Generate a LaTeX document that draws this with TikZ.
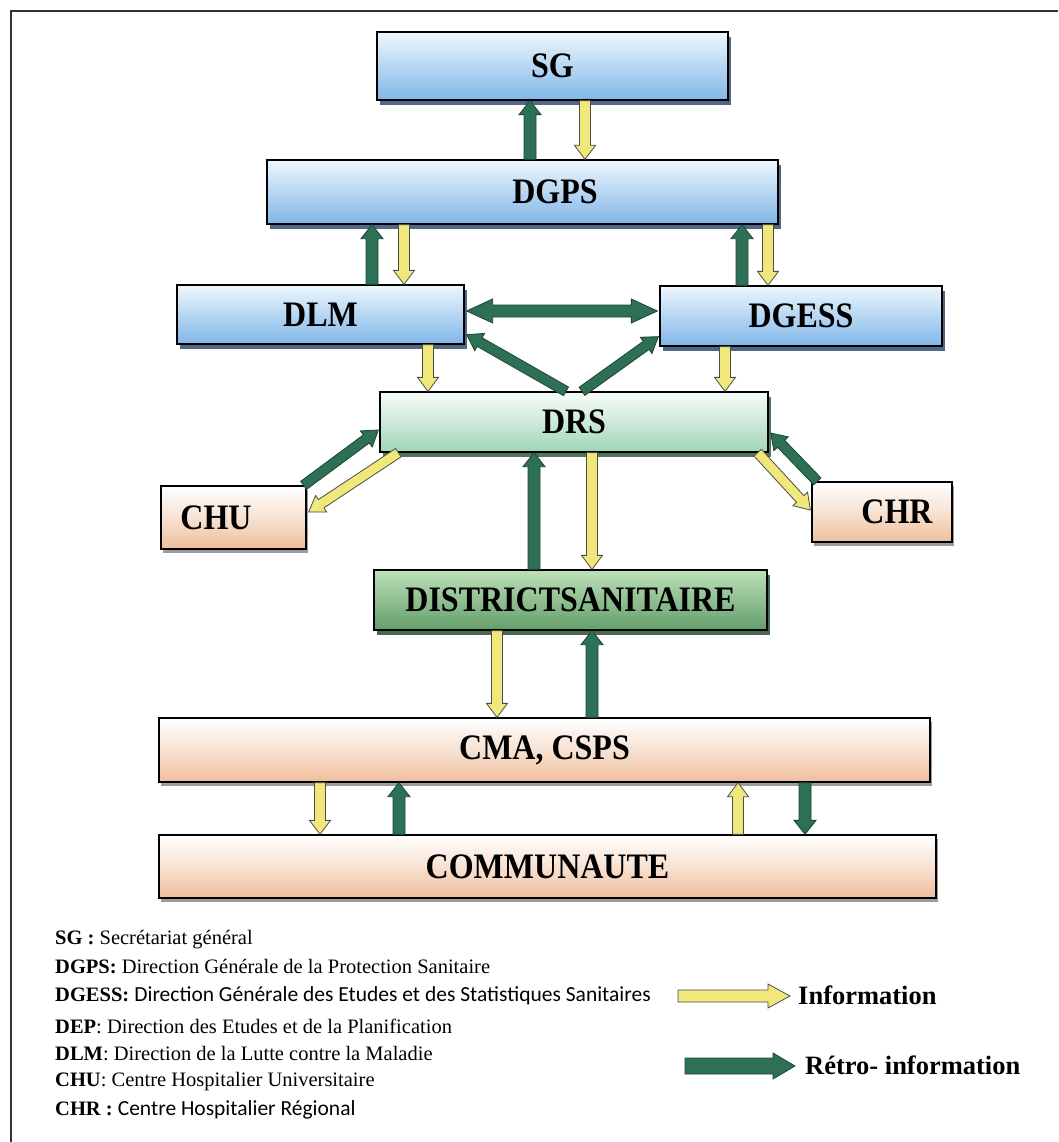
\documentclass[tikz,border=0pt]{standalone}
\usepackage{fontspec}
\usepackage{graphicx}
\setmainfont{Liberation Serif}
\newfontfamily\carl{Carlito}
\usetikzlibrary{calc,shadows}
\definecolor{blueT}{RGB}{238,247,253}
\definecolor{blueB}{RGB}{128,182,232}
\definecolor{blueSh}{RGB}{50,78,110}
\definecolor{mintT}{RGB}{248,252,249}
\definecolor{mintB}{RGB}{160,214,184}
\definecolor{greenT}{RGB}{190,224,184}
\definecolor{greenB}{RGB}{98,158,106}
\definecolor{greenSh}{RGB}{40,80,50}
\definecolor{peachB}{RGB}{238,190,155}
\definecolor{arrY}{RGB}{240,232,122}
\definecolor{arrG}{RGB}{46,112,86}
\definecolor{arrGd}{RGB}{28,70,52}
\newcommand\lbl[1]{\scalebox{1}[1.12]{#1}}
\newcommand\blkarrow[6]{%
  \coordinate (baS) at #2;
  \coordinate (baE) at #3;
  \coordinate (baN) at ($(baE)!#6!(baS)$);
  \draw[#1] ($(baS)!#4!90:(baE)$) -- ($(baN)!#4!-90:(baS)$) -- ($(baN)!#5!-90:(baS)$)
    -- (baE) -- ($(baN)!#5!90:(baS)$) -- ($(baN)!#4!90:(baS)$) -- ($(baS)!#4!-90:(baE)$) -- cycle;}
\newcommand\dblarrow[6]{%
  \coordinate (baS) at #2;
  \coordinate (baE) at #3;
  \coordinate (baN) at ($(baS)!#6!(baE)$);
  \coordinate (baM) at ($(baE)!#6!(baS)$);
  \draw[#1] (baS) -- ($(baN)!#5!90:(baE)$) -- ($(baN)!#4!90:(baE)$) -- ($(baM)!#4!-90:(baS)$)
    -- ($(baM)!#5!-90:(baS)$) -- (baE) -- ($(baM)!#5!90:(baS)$) -- ($(baM)!#4!90:(baS)$)
    -- ($(baN)!#4!-90:(baE)$) -- ($(baN)!#5!-90:(baE)$) -- cycle;}
\begin{document}
\begin{tikzpicture}[x=1pt,y=-1pt,
  base/.style={draw=black, line width=1.3pt, inner sep=0pt, font=\fontsize{32}{35}\selectfont\bfseries},
  bluebox/.style={base, top color=blueT, bottom color=blueB,
    drop shadow={shadow xshift=3pt, shadow yshift=-5pt, fill=blueSh, opacity=0.85}},
  mintbox/.style={base, top color=mintT, bottom color=mintB,
    drop shadow={shadow xshift=3pt, shadow yshift=-5pt, fill=greenSh, opacity=0.8}},
  greenbox/.style={base, top color=greenT, bottom color=greenB,
    drop shadow={shadow xshift=3pt, shadow yshift=-5pt, fill=greenSh, opacity=0.85}},
  peachbox/.style={base, top color=white, bottom color=peachB, middle color=white!55!peachB,
    drop shadow={shadow xshift=2pt, shadow yshift=-4pt, fill=black!55, opacity=0.7}},
  yarrow/.style={fill=arrY, draw=black!70, line width=0.8pt},
  garrow/.style={fill=arrG, draw=arrGd, line width=0.8pt},
  legtext/.style={anchor=west, inner sep=0pt, font=\fontsize{20.5}{23}\selectfont},
  legkey/.style={anchor=west, inner sep=0pt, font=\fontsize{26.5}{29}\selectfont\bfseries}
]
\useasboundingbox (0,0) rectangle (1058,1142);
\fill[white] (0,0) rectangle (1058,1142);
\draw[line width=1.5pt, black!80] (11,1142) -- (11,11) -- (1058,11);

% boxes
\node[bluebox, minimum width=351pt, minimum height=68pt] (SG) at (552.5,66) {\lbl{SG}};
\node[bluebox, minimum width=511pt, minimum height=64pt] (DGPS) at (522.5,192) {\hspace*{65pt}\lbl{DGPS}};
\node[bluebox, minimum width=287pt, minimum height=59pt] (DLM) at (320.5,314.5) {\lbl{DLM}};
\node[bluebox, minimum width=282pt, minimum height=60pt] (DGESS) at (801,316) {\lbl{DGESS}};
\node[mintbox, minimum width=388pt, minimum height=60pt] (DRS) at (574,422) {\lbl{DRS}};
\node[peachbox, minimum width=145pt, minimum height=63pt] (CHU) at (233.5,517.5) {\lbl{CHU}\hspace*{35pt}};
\node[peachbox, minimum width=140pt, minimum height=60pt] (CHR) at (882,512) {\hspace*{30pt}\lbl{CHR}};
\node[greenbox, minimum width=393pt, minimum height=60pt] (DIST) at (570.5,600) {\lbl{DISTRICTSANITAIRE}};
\node[peachbox, minimum width=771pt, minimum height=64pt] (CMA) at (544.5,750) {\lbl{CMA, CSPS}};
\node[peachbox, minimum width=777pt, minimum height=63pt] (COMM) at (547.5,866.5) {\lbl{COMMUNAUTE}};

% arrows SG - DGPS
\blkarrow{garrow}{([xshift=7.5pt]DGPS.north)}{([xshift=-22.5pt]SG.south)}{6pt}{11pt}{14pt}
\blkarrow{yarrow}{([xshift=32.5pt]SG.south)}{([xshift=62.5pt]DGPS.north)}{5.5pt}{10.5pt}{14pt}
% DGPS - DLM / DGESS
\blkarrow{garrow}{([xshift=51.5pt]DLM.north)}{([xshift=-150.5pt]DGPS.south)}{6pt}{11pt}{14pt}
\blkarrow{yarrow}{([xshift=-118.5pt]DGPS.south)}{([xshift=83.5pt]DLM.north)}{5.5pt}{10.5pt}{14pt}
\blkarrow{garrow}{([xshift=-59pt]DGESS.north)}{([xshift=219.5pt]DGPS.south)}{6pt}{11pt}{14pt}
\blkarrow{yarrow}{([xshift=245.5pt]DGPS.south)}{([xshift=-33pt]DGESS.north)}{5.5pt}{10.5pt}{14pt}
% DLM <-> DGESS
\dblarrow{garrow}{([xshift=2pt,yshift=3.5pt]DLM.east)}{([xshift=-2pt,yshift=5pt]DGESS.west)}{6pt}{12pt}{26pt}
% DLM / DGESS - DRS
\blkarrow{yarrow}{([xshift=107.5pt]DLM.south)}{([xshift=-146pt]DRS.north)}{5.5pt}{10.5pt}{14pt}
\blkarrow{yarrow}{([xshift=-76pt]DGESS.south)}{([xshift=151pt]DRS.north)}{5.5pt}{10.5pt}{14pt}
\blkarrow{garrow}{([xshift=-8pt]DRS.north)}{([xshift=2pt,yshift=10pt]DLM.south east)}{5pt}{10pt}{15pt}
\blkarrow{garrow}{([xshift=8pt]DRS.north)}{([xshift=-1pt,yshift=10pt]DGESS.south west)}{5pt}{10pt}{15pt}
% CHU / CHR
\blkarrow{garrow}{([xshift=-3pt]CHU.north east)}{([xshift=-1pt,yshift=-8pt]DRS.west)}{5pt}{10pt}{15pt}
\blkarrow{yarrow}{([xshift=19pt]DRS.south west)}{([xshift=2pt,yshift=5.5pt]CHU.east)}{5pt}{10pt}{15pt}
\blkarrow{garrow}{([xshift=6pt]CHR.north west)}{([xshift=2pt,yshift=-11pt]DRS.east)}{5pt}{10pt}{15pt}
\blkarrow{yarrow}{([xshift=-11pt]DRS.south east)}{([xshift=-1pt,yshift=2pt]CHR.west)}{5pt}{10pt}{15pt}
% DRS - DISTRICT
\blkarrow{garrow}{([xshift=-36.5pt]DIST.north)}{([xshift=-40pt]DRS.south)}{6pt}{11pt}{14pt}
\blkarrow{yarrow}{([xshift=18pt]DRS.south)}{([xshift=21.5pt]DIST.north)}{5.5pt}{10.5pt}{14pt}
% DISTRICT - CMA
\blkarrow{yarrow}{([xshift=-73.5pt]DIST.south)}{([xshift=-47.5pt]CMA.north)}{5.5pt}{10.5pt}{14pt}
\blkarrow{garrow}{([xshift=47.5pt]CMA.north)}{([xshift=21.5pt]DIST.south)}{6pt}{11pt}{14pt}
% CMA - COMMUNAUTE
\blkarrow{yarrow}{([xshift=-224.5pt]CMA.south)}{([xshift=-227.5pt]COMM.north)}{5.5pt}{10.5pt}{14pt}
\blkarrow{garrow}{([xshift=-148.5pt]COMM.north)}{([xshift=-145.5pt]CMA.south)}{6pt}{11pt}{14pt}
\blkarrow{yarrow}{([xshift=190.5pt]COMM.north)}{([xshift=193.5pt]CMA.south)}{5.5pt}{10.5pt}{14pt}
\blkarrow{garrow}{([xshift=260.5pt]CMA.south)}{([xshift=257.5pt]COMM.north)}{6pt}{11pt}{14pt}

% legend
\node[legtext] (l1) at (55,940) {\textbf{SG :} Secrétariat général};
\node[legtext] (l2) at (55,967) {\textbf{DGPS:} Direction Générale de la Protection Sanitaire};
\node[legtext] (l3) at (55,996) {\textbf{DGESS:} {\carl\fontsize{21.5}{23}\selectfont Direction Générale des Etudes et des Statistiques Sanitaires}};
\node[legtext] (l4) at (55,1026) {\textbf{DEP}: Direction des Etudes et de la Planification};
\node[legtext] (l5) at (55,1054) {\textbf{DLM}: Direction de la Lutte contre la Maladie};
\node[legtext] (l6) at (55,1082) {\textbf{CHU}: Centre Hospitalier Universitaire};
\node[legtext] (l7) at (55,1110) {\textbf{CHR :} {\carl\fontsize{21.5}{23}\selectfont Centre Hospitalier Régional}};

\coordinate (ly1) at (678,996);
\coordinate (ly2) at (790,996);
\blkarrow{yarrow}{(ly1)}{(ly2)}{6pt}{12pt}{22pt}
\node[legkey] (kinfo) at (798,995) {Information};
\coordinate (lg1) at (685,1066);
\coordinate (lg2) at (795,1066);
\blkarrow{garrow}{(lg1)}{(lg2)}{8pt}{13pt}{22pt}
\node[legkey] (kretro) at (805,1065) {Rétro- information};
\end{tikzpicture}
\end{document}
